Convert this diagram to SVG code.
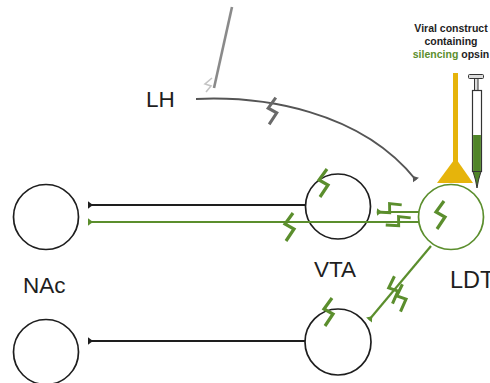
<svg xmlns="http://www.w3.org/2000/svg" width="490" height="383" viewBox="0 0 490 383">
  <style>
    .cell { fill: #ffffff; stroke: #1e1e1e; stroke-width: 1.7; }
    .cell-g { fill: #ffffff; stroke: #5b8e2d; stroke-width: 1.7; }
    .label { font-family: "Liberation Sans", Arial, sans-serif; font-size: 22.5px; fill: #1e1e1e; }
    .note { font-family: "Liberation Sans", Arial, sans-serif; font-size: 10.5px; font-weight: bold; fill: #1e1e1e; text-anchor: middle; }
    .ax-k { fill: none; stroke: #1e1e1e; stroke-width: 2.2; }
    .ax-g { fill: none; stroke: #5b8e2d; stroke-width: 2.2; }
    .ax-lh { fill: none; stroke: #555555; stroke-width: 2; }
    .bolt-g { fill: none; stroke: #5b8e2d; stroke-width: 3.2; stroke-linejoin: miter; }
    .bolt-k { fill: none; stroke: #6a6a6a; stroke-width: 3.2; }
  </style>
  <defs>
    <marker id="tee-k" markerUnits="userSpaceOnUse" markerWidth="10" markerHeight="10" viewBox="-6 -5 8 10" refX="0" refY="0" orient="auto">
      <path d="M0,-3.8 L0,3.8 L-5,0 Z" fill="#1e1e1e"/>
    </marker>
    <marker id="tee-g" markerUnits="userSpaceOnUse" markerWidth="10" markerHeight="10" viewBox="-6 -5 8 10" refX="0" refY="0" orient="auto">
      <path d="M0,-3.8 L0,3.8 L-5,0 Z" fill="#5b8e2d"/>
    </marker>
    <marker id="tee-lh" markerUnits="userSpaceOnUse" markerWidth="10" markerHeight="10" viewBox="-6 -5 8 10" refX="0" refY="0" orient="auto">
      <path d="M0,-3.8 L0,3.8 L-5,0 Z" fill="#555555"/>
    </marker>
    <path id="bolt" d="M4,-14 L-4,-3 L5,2 L-3,14"/>
  </defs>

  <!-- NAc cells -->
  <g id="nac">
    <circle class="cell" cx="46" cy="217" r="32.5"/>
    <circle class="cell" cx="46" cy="352" r="32.5"/>
    <text class="label" x="23" y="293">NAc</text>
  </g>

  <!-- VTA cells -->
  <g id="vta">
    <circle class="cell" cx="338" cy="206.5" r="32.5"/>
    <circle class="cell" cx="338" cy="342" r="33"/>
    <text class="label" x="314" y="277">VTA</text>
  </g>

  <!-- LDT cell with silencing opsin -->
  <g id="ldt">
    <circle class="cell-g" cx="451" cy="217" r="32.5"/>
    <text class="label" x="450" y="288" style="font-size:23.5px">LDT</text>
  </g>

  <!-- projections between regions, drawn over the cell bodies -->
  <g id="connectors">
    <path class="ax-k" d="M306,205 L88,205" marker-end="url(#tee-k)"/>
    <path class="ax-g" d="M419,222 L88,222" marker-end="url(#tee-g)"/>
    <path class="ax-g" d="M419,212 L377,212" marker-end="url(#tee-g)"/>
    <path class="ax-k" d="M305,341 L88,341" marker-end="url(#tee-k)"/>
    <path class="ax-g" d="M431,246 L369,320" marker-end="url(#tee-g)"/>
    <path class="ax-lh" d="M196,99 C262,96 360,110 416,180" marker-end="url(#tee-lh)"/>
  </g>

  <!-- LH label and recording electrode -->
  <g id="lh">
    <text class="label" x="146" y="107">LH</text>
    <line x1="232" y1="7" x2="214" y2="88" stroke="#8a8a8a" stroke-width="2.6"/>
    <path d="M212,78 L205,84 L211,86 L206,92" fill="none" stroke="#c4c4c4" stroke-width="1.6"/>
  </g>

  <!-- inhibition marks -->
  <g id="bolts">
    <use href="#bolt" class="bolt-k" transform="translate(272,111) scale(0.95)"/>
    <use href="#bolt" class="bolt-g" transform="translate(323,183)"/>
    <use href="#bolt" class="bolt-g" transform="translate(289,227)"/>
    <use href="#bolt" class="bolt-g" transform="translate(389,208) rotate(60) scale(0.9)"/>
    <use href="#bolt" class="bolt-g" transform="translate(398,221) rotate(60) scale(0.9)"/>
    <use href="#bolt" class="bolt-g" transform="translate(440,215)"/>
    <use href="#bolt" class="bolt-g" transform="translate(328,312)"/>
    <use href="#bolt" class="bolt-g" transform="translate(393,290) rotate(-10) scale(0.95)"/>
    <use href="#bolt" class="bolt-g" transform="translate(401,298) rotate(-10) scale(0.95)"/>
  </g>

  <!-- optic fibre -->
  <g id="fibre">
    <rect x="453" y="73" width="5" height="92" fill="#e6b40b"/>
    <polygon points="455.5,158 437,183 473,183" fill="#e6b40b"/>
  </g>

  <!-- syringe with viral construct -->
  <g id="syringe">
    <rect x="468.5" y="74.5" width="15" height="4" rx="1" fill="#dcdcdc" stroke="#333" stroke-width="1"/>
    <rect x="474.5" y="78.5" width="3.5" height="12" fill="#dcdcdc" stroke="#333" stroke-width="1"/>
    <rect x="472.5" y="90.5" width="9" height="81" fill="#ffffff" stroke="#333" stroke-width="1.2"/>
    <rect x="473.1" y="135" width="7.8" height="36" fill="#4f8428"/>
    <polygon points="473,171.5 481,171.5 478.5,180 477,188 475.5,180" fill="#4f8428" stroke="#333" stroke-width="1"/>
  </g>

  <!-- caption -->
  <g id="caption">
    <text class="note" x="451" y="32">Viral construct</text>
    <text class="note" x="451" y="45">containing</text>
    <text class="note" x="451" y="58"><tspan fill="#5b8e2d">silencing</tspan> opsin</text>
  </g>
</svg>
